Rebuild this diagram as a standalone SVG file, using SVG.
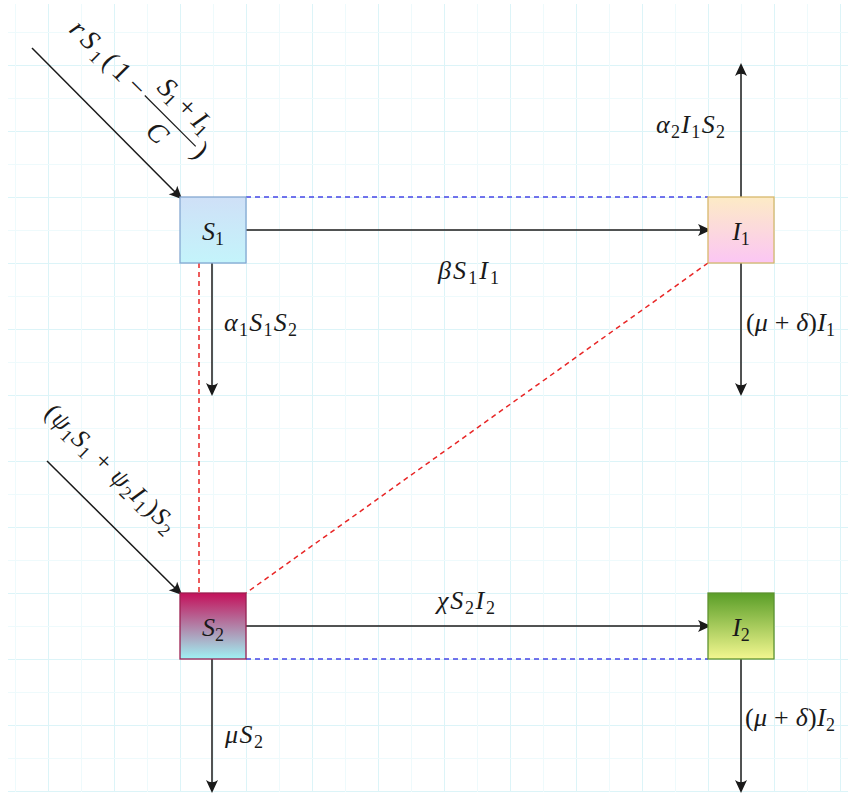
<svg xmlns="http://www.w3.org/2000/svg" width="852" height="794" viewBox="0 0 852 794">
  <style>
    .m { font-family: "Liberation Serif", "Noto Serif", "DejaVu Serif", serif; font-style: italic; font-size: 26px; fill: #1a1a1a; }
    .big { font-size: 28px; }
    .n { font-style: normal; }
    .s { font-size: 18px; font-style: normal; }
    .arr { stroke: #1a1a1a; stroke-width: 1.5; fill: none; marker-end: url(#ah); }
    .blue { stroke: #4646e6; stroke-width: 1.5; stroke-dasharray: 5 4; fill: none; }
    .red { stroke: #e82626; stroke-width: 1.5; stroke-dasharray: 5 4; fill: none; }
    .box { stroke-width: 1.3; }
  </style>
  <defs>
    <pattern id="grid" patternUnits="userSpaceOnUse" x="48" y="65" width="66" height="66">
      <path d="M0.5,0 V66 M0,0.5 H66" stroke="#dcf4f8" stroke-width="1" fill="none"/>
      <path d="M33.5,0 V66 M0,33.5 H66" stroke="#eefafc" stroke-width="1" fill="none"/>
    </pattern>
    <marker id="ah" viewBox="-14 -7 15 14" refX="-3" refY="0" markerWidth="15" markerHeight="14" markerUnits="userSpaceOnUse" orient="auto">
      <path d="M0,0 L-13,-6 Q-8.5,0 -13,6 Z" fill="#1a1a1a"/>
    </marker>
    <linearGradient id="gS1" x1="0" y1="0" x2="0" y2="1">
      <stop offset="0" stop-color="#cfe0f7"/>
      <stop offset="1" stop-color="#c4f4fb"/>
    </linearGradient>
    <linearGradient id="gI1" x1="0" y1="0" x2="0" y2="1">
      <stop offset="0" stop-color="#fdebc6"/>
      <stop offset="1" stop-color="#fbc6f4"/>
    </linearGradient>
    <linearGradient id="gS2" x1="0" y1="0" x2="0" y2="1">
      <stop offset="0" stop-color="#c4105a"/>
      <stop offset="1" stop-color="#9ff2f4"/>
    </linearGradient>
    <linearGradient id="gI2" x1="0" y1="0" x2="0" y2="1">
      <stop offset="0" stop-color="#5a9e28"/>
      <stop offset="1" stop-color="#f3f790"/>
    </linearGradient>
  </defs>

  <!-- background and grid -->
  <rect width="852" height="794" fill="#ffffff"/>
  <rect x="8" y="4" width="840" height="788" fill="url(#grid)"/>

  <!-- connectors -->
  <g id="connectors">
    <line class="blue" x1="246" y1="197" x2="708" y2="197"/>
    <line class="blue" x1="246" y1="659" x2="708" y2="659"/>
    <line class="red" x1="199" y1="263" x2="199" y2="593"/>
    <line class="red" x1="708" y1="263" x2="246" y2="593"/>

    <line class="arr" x1="32" y1="48" x2="180" y2="197"/>
    <line class="arr" x1="47" y1="461" x2="180" y2="593"/>
    <line class="arr" x1="246" y1="230" x2="708" y2="230"/>
    <line class="arr" x1="246" y1="626" x2="708" y2="626"/>
    <line class="arr" x1="212" y1="263" x2="212" y2="393"/>
    <line class="arr" x1="212" y1="659" x2="212" y2="790"/>
    <line class="arr" x1="741" y1="197" x2="741" y2="66"/>
    <line class="arr" x1="741" y1="263" x2="741" y2="393"/>
    <line class="arr" x1="741" y1="659" x2="741" y2="790"/>

    <!-- growth term of S1 -->
    <g transform="translate(90,40) rotate(45)">
      <text class="m big" x="-22" y="9" textLength="74">r<tspan>S</tspan><tspan class="s" dy="5">1</tspan><tspan class="n" dy="-5">(1</tspan></text>
      <text class="m big n" x="66" y="9" text-anchor="middle">−</text>
      <text class="m big" x="114" y="-12" text-anchor="middle" textLength="66">S<tspan class="s" dy="4">1</tspan><tspan class="n" dy="-4"> + </tspan><tspan>I</tspan><tspan class="s" dy="4">1</tspan></text>
      <line x1="78" y1="0.5" x2="150" y2="0.5" stroke="#1a1a1a" stroke-width="1.2"/>
      <text class="m big" x="113" y="27" text-anchor="middle">C</text>
      <text class="m big n" x="152" y="9">)</text>
    </g>
    <!-- infection term of S2 -->
    <g transform="translate(53,413) rotate(44)">
      <text class="m" x="-6" y="8" textLength="172"><tspan class="n">(</tspan>ψ<tspan class="s" dy="5">1</tspan><tspan dy="-5">S</tspan><tspan class="s" dy="5">1</tspan><tspan class="n" dy="-5"> + </tspan>ψ<tspan class="s" dy="5">2</tspan><tspan dy="-5">I</tspan><tspan class="s" dy="5">1</tspan><tspan class="n" dy="-5">)</tspan>S<tspan class="s" dy="5">2</tspan></text>
    </g>

    <text class="m" x="438" y="279" textLength="61">β<tspan>S</tspan><tspan class="s" dy="5">1</tspan><tspan dy="-5">I</tspan><tspan class="s" dy="5">1</tspan></text>
    <text class="m" x="224" y="331" textLength="73">α<tspan class="s" dy="5">1</tspan><tspan dy="-5">S</tspan><tspan class="s" dy="5">1</tspan><tspan dy="-5">S</tspan><tspan class="s" dy="5">2</tspan></text>
    <text class="m" x="656" y="133" textLength="69">α<tspan class="s" dy="5">2</tspan><tspan dy="-5">I</tspan><tspan class="s" dy="5">1</tspan><tspan dy="-5">S</tspan><tspan class="s" dy="5">2</tspan></text>
    <text class="m" x="746" y="331" textLength="89"><tspan class="n">(</tspan>μ<tspan class="n"> + </tspan>δ<tspan class="n">)</tspan>I<tspan class="s" dy="5">1</tspan></text>
    <text class="m" x="437" y="609" textLength="58">χ<tspan>S</tspan><tspan class="s" dy="5">2</tspan><tspan dy="-5">I</tspan><tspan class="s" dy="5">2</tspan></text>
    <text class="m" x="225" y="743" textLength="38">μ<tspan>S</tspan><tspan class="s" dy="5">2</tspan></text>
    <text class="m" x="745" y="726" textLength="90"><tspan class="n">(</tspan>μ<tspan class="n"> + </tspan>δ<tspan class="n">)</tspan>I<tspan class="s" dy="5">2</tspan></text>
  </g>

  <!-- compartments -->
  <g id="S1">
    <rect class="box" x="180" y="197" width="66" height="66" fill="url(#gS1)" stroke="#85a8d2"/>
    <text class="m" x="213" y="240" text-anchor="middle">S<tspan class="s" dy="5">1</tspan></text>
  </g>
  <g id="I1">
    <rect class="box" x="708" y="197" width="66" height="66" fill="url(#gI1)" stroke="#d8b86c"/>
    <text class="m" x="741" y="240" text-anchor="middle">I<tspan class="s" dy="5">1</tspan></text>
  </g>
  <g id="S2">
    <rect class="box" x="180" y="593" width="66" height="66" fill="url(#gS2)" stroke="#9c2152"/>
    <text class="m" x="213" y="636" text-anchor="middle">S<tspan class="s" dy="5">2</tspan></text>
  </g>
  <g id="I2">
    <rect class="box" x="708" y="593" width="66" height="66" fill="url(#gI2)" stroke="#5f9331"/>
    <text class="m" x="741" y="636" text-anchor="middle">I<tspan class="s" dy="5">2</tspan></text>
  </g>
</svg>
